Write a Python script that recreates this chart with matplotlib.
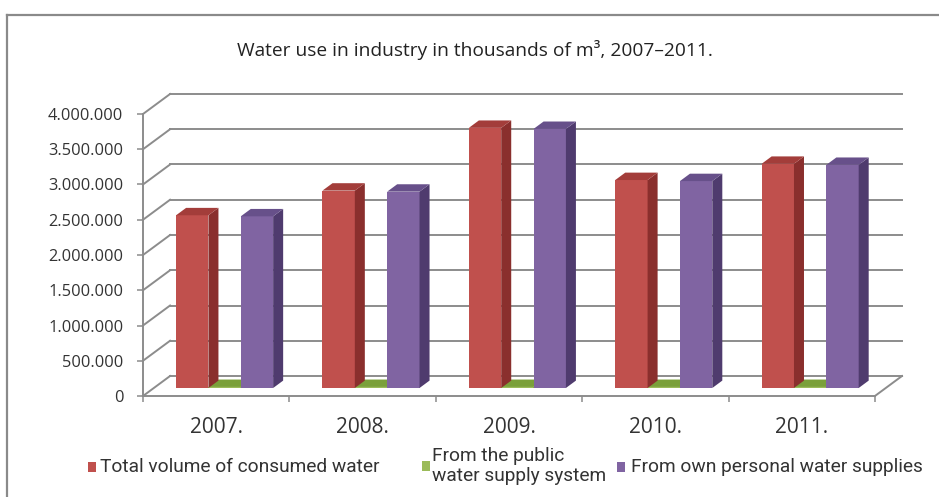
import matplotlib
matplotlib.use("Agg")
import matplotlib.pyplot as plt
from matplotlib.patches import Polygon, Rectangle
from matplotlib.lines import Line2D
from matplotlib.ticker import FuncFormatter

# values in thousands of m3
years = ["2007.", "2008.", "2009.", "2010.", "2011."]
total_water = [2450000, 2800000, 3690000, 2950000, 3180000]
public_supply = [15000, 15000, 15000, 15000, 15000]
own_supply = [2435000, 2785000, 3675000, 2935000, 3165000]
series_names = ["Total volume of consumed water",
                "From the public\nwater supply system",
                "From own personal water supplies"]
y_ticks = [0, 500000, 1000000, 1500000, 2000000, 2500000, 3000000, 3500000, 4000000]

W_PX, H_PX = 939, 497
GRID = "#8c8c8c"

# 3d look: depth offset of the back wall in data units
DX = 27 / 146.0
DY = 4e6 * 20 / 282.0
F0, F1 = 0.40, 0.77     # front / back of the bars inside the depth
BAR_W = 0.221
lefts = [-0.348, -0.127, 0.094]

colors = [("#c0504d", "#8a2f2d", "#a33d3a"),   # front, side, top
          ("#9bbb59", "#6f8f32", "#7aa03a"),
          ("#8064a2", "#4f3b6e", "#67508a")]

fig = plt.figure(figsize=(W_PX / 100, H_PX / 100), dpi=100)
fig.patch.set_facecolor("white")


def fx(x):
    return x / W_PX


def fy(y):
    return 1 - y / H_PX


ax = fig.add_axes([fx(143), fy(396), (902 - 143) / W_PX, (396 - 94) / H_PX])
ax.patch.set_alpha(0)
ax.set_xlim(-0.5, 4.5 + DX)
ax.set_ylim(0, 4e6 + DY)

# back wall grid + diagonals
for v in y_ticks:
    ax.plot([-0.5, -0.5 + DX], [v, v + DY], color=GRID, lw=1.4, zorder=1, clip_on=False)
    ax.plot([-0.5 + DX, 4.5 + DX], [v + DY, v + DY], color=GRID, lw=1.4, zorder=1, clip_on=False)
ax.plot([4.5, 4.5 + DX], [0, DY], color=GRID, lw=1.4, zorder=1, clip_on=False)


def draw_bar(x0, v, front, side, top, z):
    xl = x0 + F0 * DX
    b = F0 * DY
    ddx = (F1 - F0) * DX
    ddy = (F1 - F0) * DY
    ax.bar(xl, v, width=BAR_W, bottom=b, align="edge", color=front, lw=0, zorder=z)
    xr = xl + BAR_W
    ax.add_patch(Polygon([(xr, b), (xr + ddx, b + ddy), (xr + ddx, b + v + ddy), (xr, b + v)],
                         closed=True, facecolor=side, lw=0, zorder=z))
    ax.add_patch(Polygon([(xl, b + v), (xr, b + v), (xr + ddx, b + v + ddy), (xl + ddx, b + v + ddy)],
                         closed=True, facecolor=top, lw=0, zorder=z))


series = [total_water, public_supply, own_supply]
for i in range(len(years)):
    for j in [1, 0, 2]:
        c = colors[j]
        draw_bar(i + lefts[j], series[j][i], c[0], c[1], c[2], 3 + i)

# axes, ticks
for s in ["top", "right"]:
    ax.spines[s].set_visible(False)
for s in ["left", "bottom"]:
    ax.spines[s].set_color(GRID)
    ax.spines[s].set_linewidth(1.4)
ax.spines["left"].set_bounds(0, 4e6)
ax.spines["bottom"].set_bounds(-0.5, 4.5)

ax.set_yticks(y_ticks)
ax.yaxis.set_major_formatter(FuncFormatter(lambda v, p: f"{int(v):,}".replace(",", ".")))
ax.set_xticks([-0.5, 0.5, 1.5, 2.5, 3.5, 4.5])
ax.set_xticklabels([])
ax.set_xticks(range(len(years)), minor=True)
ax.set_xticklabels(years, minor=True)
ax.tick_params(axis="both", which="major", direction="out", length=4.3, width=1.1, color=GRID)
ax.tick_params(axis="y", pad=10, labelsize=11.8, labelcolor="#333333")
ax.tick_params(axis="x", which="minor", length=0, pad=15, labelsize=15, labelcolor="#333333")
for t in ax.get_yticklabels() + ax.get_xticklabels(minor=True):
    t.set_family(["Open Sans", "DejaVu Sans"])

# title
fig.text(fx(475), fy(50), "Water use in industry in thousands of m³, 2007–2011.",
         ha="center", va="center", fontsize=13.8, color="#222222",
         family=["Open Sans", "DejaVu Sans"])

# outer frame (cut on right and bottom)
fig.add_artist(Line2D([fx(7), fx(7)], [fy(15), 0], color="#8a8a8a", lw=1.6))
fig.add_artist(Line2D([fx(7), 1], [fy(15), fy(15)], color="#8a8a8a", lw=1.6))

# legend
leg_font = ["Roboto", "DejaVu Sans"]
leg_pos = [(88, 100, 467), (422, 432, 466), (617, 631, 467)]
for (sx, tx, ty), name, c in zip(leg_pos, series_names, colors):
    fig.add_artist(Rectangle((fx(sx), fy(ty + 5)), 8 / W_PX, 10 / H_PX,
                             transform=fig.transFigure, facecolor=c[0], lw=0))
    fig.text(fx(tx), fy(ty), name, ha="left", va="center", fontsize=13.8,
             color="#333333", family=leg_font, linespacing=1.12)

fig.savefig("out.png", dpi=100, facecolor="white")
